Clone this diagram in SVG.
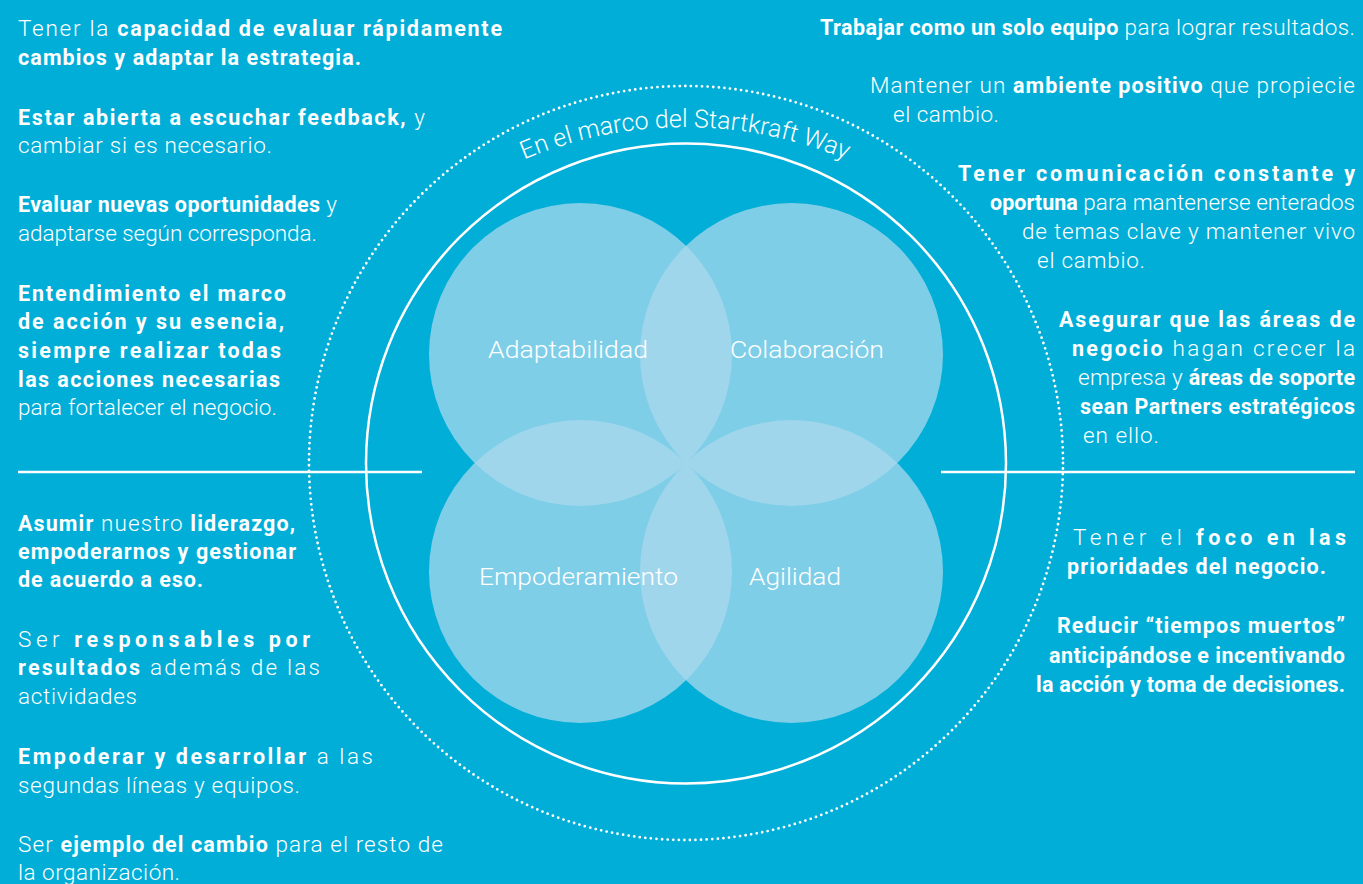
<svg xmlns="http://www.w3.org/2000/svg" width="1363" height="884" viewBox="0 0 1363 884">
<defs>
<style>
.t{font-family:Roboto,"Liberation Sans",sans-serif;font-size:22.5px;fill:#fff;font-weight:300}
.b{font-weight:700;font-size:21.5px}
.lbl{font-family:Roboto,"Liberation Sans",sans-serif;font-size:24px;fill:#fff;font-weight:300;text-anchor:middle}
.petal{fill:#a9d8ee;fill-opacity:0.75}
.rule{stroke:#fff;stroke-width:2.5;fill:none}
</style>
<path id="arc" d="M 470 187 A 416 416 0 0 1 900 187"/>
</defs>
<rect width="1363" height="884" fill="#00aed8"/>

<g id="frame">
<circle cx="686" cy="463" r="377" fill="none" stroke="#fff" stroke-width="2.8" stroke-linecap="round" stroke-dasharray="0 5.6"/>
<circle cx="686" cy="463.5" r="320" class="rule"/>
<line x1="18" y1="472" x2="422" y2="472" class="rule"/>
<line x1="941" y1="472" x2="1355" y2="472" class="rule"/>
<text class="t" style="font-size:25px"><textPath href="#arc" startOffset="50%" text-anchor="middle">En el marco del Startkraft Way</textPath></text>
</g>

<g id="petals">
<circle class="petal" cx="580.5" cy="354.5" r="151.5"/>
<circle class="petal" cx="791.5" cy="354.5" r="151.5"/>
<circle class="petal" cx="580.5" cy="571.5" r="151.5"/>
<circle class="petal" cx="791.5" cy="571.5" r="151.5"/>
</g>

<g id="node-adaptabilidad">
<text class="lbl" x="568" y="358" textLength="160" lengthAdjust="spacingAndGlyphs">Adaptabilidad</text>
</g>
<g id="node-colaboracion">
<text class="lbl" x="807" y="358" textLength="154" lengthAdjust="spacingAndGlyphs">Colaboración</text>
</g>
<g id="node-empoderamiento">
<text class="lbl" x="578.5" y="585" textLength="199" lengthAdjust="spacingAndGlyphs">Empoderamiento</text>
</g>
<g id="node-agilidad">
<text class="lbl" x="795" y="585" textLength="92" lengthAdjust="spacingAndGlyphs">Agilidad</text>
</g>

<g id="connectors"></g>

<g id="text-left-top">
<text class="t" x="18" y="36" textLength="484" lengthAdjust="spacing">Tener la <tspan class="b">capacidad de evaluar rápidamente</tspan></text>
<text class="t b" x="18" y="65" textLength="343" lengthAdjust="spacing">cambios y adaptar la estrategia.</text>
<text class="t" x="18" y="125" textLength="407" lengthAdjust="spacing"><tspan class="b">Estar abierta a escuchar feedback,</tspan> y</text>
<text class="t" x="18" y="153" textLength="254" lengthAdjust="spacing">cambiar si es necesario.</text>
<text class="t" x="18" y="212" textLength="319" lengthAdjust="spacing"><tspan class="b">Evaluar nuevas oportunidades</tspan> y</text>
<text class="t" x="18" y="241" textLength="299" lengthAdjust="spacing">adaptarse según corresponda.</text>
<text class="t b" x="18" y="301" textLength="268" lengthAdjust="spacing">Entendimiento el marco</text>
<text class="t b" x="18" y="329" textLength="266" lengthAdjust="spacing">de acción y su esencia,</text>
<text class="t b" x="18" y="358" textLength="263" lengthAdjust="spacing">siempre realizar todas</text>
<text class="t b" x="18" y="387" textLength="262" lengthAdjust="spacing">las acciones necesarias</text>
<text class="t" x="18" y="415" textLength="259" lengthAdjust="spacing">para fortalecer el negocio.</text>
</g>

<g id="text-left-bottom">
<text class="t" x="18" y="531" textLength="277" lengthAdjust="spacing"><tspan class="b">Asumir</tspan> nuestro <tspan class="b">liderazgo,</tspan></text>
<text class="t b" x="18" y="559" textLength="278" lengthAdjust="spacing">empoderarnos y gestionar</text>
<text class="t b" x="18" y="587" textLength="185" lengthAdjust="spacing">de acuerdo a eso.</text>
<text class="t" x="18" y="647" textLength="292" lengthAdjust="spacing">Ser <tspan class="b">responsables por</tspan></text>
<text class="t" x="18" y="675" textLength="302" lengthAdjust="spacing"><tspan class="b">resultados</tspan> además de las</text>
<text class="t" x="18" y="704" textLength="119" lengthAdjust="spacing">actividades</text>
<text class="t" x="18" y="764" textLength="355" lengthAdjust="spacing"><tspan class="b">Empoderar y desarrollar</tspan> a las</text>
<text class="t" x="18" y="793" textLength="282" lengthAdjust="spacing">segundas líneas y equipos.</text>
<text class="t" x="18" y="852" textLength="425" lengthAdjust="spacing">Ser <tspan class="b">ejemplo del cambio</tspan> para el resto de</text>
<text class="t" x="18" y="880" textLength="162" lengthAdjust="spacing">la organización.</text>
</g>

<g id="text-right-top">
<text class="t" x="820" y="35" textLength="535" lengthAdjust="spacing"><tspan class="b">Trabajar como un solo equipo</tspan> para lograr resultados.</text>
<text class="t" x="870" y="93" textLength="485" lengthAdjust="spacing">Mantener un <tspan class="b">ambiente positivo</tspan> que propiecie</text>
<text class="t" x="893" y="122" textLength="106" lengthAdjust="spacing">el cambio.</text>
<text class="t b" x="958" y="181" textLength="397" lengthAdjust="spacing">Tener comunicación constante y</text>
<text class="t" x="990" y="210" textLength="365" lengthAdjust="spacing"><tspan class="b">oportuna</tspan> para mantenerse enterados</text>
<text class="t" x="1022" y="239" textLength="333" lengthAdjust="spacing">de temas clave y mantener vivo</text>
<text class="t" x="1037" y="268" textLength="108" lengthAdjust="spacing">el cambio.</text>
<text class="t b" x="1059" y="327" textLength="296" lengthAdjust="spacing">Asegurar que las áreas de</text>
<text class="t" x="1072" y="356" textLength="283" lengthAdjust="spacing"><tspan class="b">negocio</tspan> hagan crecer la</text>
<text class="t" x="1078" y="385" textLength="277" lengthAdjust="spacing">empresa y <tspan class="b">áreas de soporte</tspan></text>
<text class="t b" x="1080" y="414" textLength="275" lengthAdjust="spacing">sean Partners estratégicos</text>
<text class="t" x="1083" y="443" textLength="76" lengthAdjust="spacing">en ello.</text>
</g>

<g id="text-right-bottom">
<text class="t" x="1073" y="545" textLength="273" lengthAdjust="spacing">Tener el <tspan class="b">foco en las</tspan></text>
<text class="t b" x="1067" y="574" textLength="259" lengthAdjust="spacing">prioridades del negocio.</text>
<text class="t b" x="1057" y="633" textLength="288" lengthAdjust="spacing">Reducir “tiempos muertos”</text>
<text class="t b" x="1049" y="663" textLength="296" lengthAdjust="spacing">anticipándose e incentivando</text>
<text class="t b" x="1036" y="692" textLength="309" lengthAdjust="spacing">la acción y toma de decisiones.</text>
</g>
</svg>
